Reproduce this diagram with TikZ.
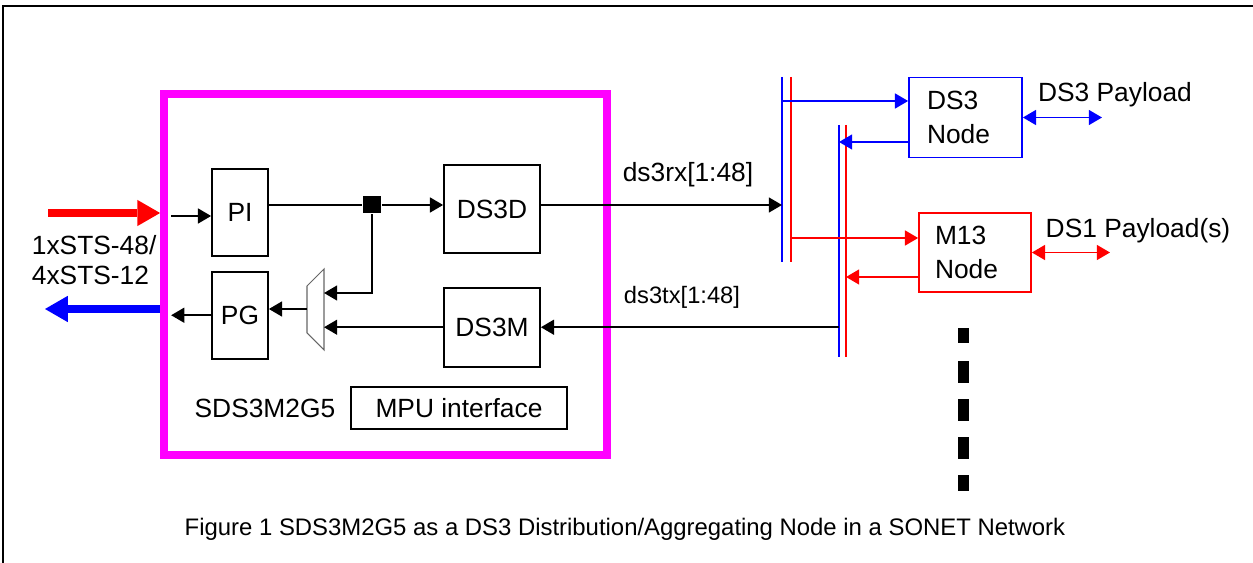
\documentclass[tikz,border=0pt]{standalone}
\usepackage{fontspec}
\setmainfont{Liberation Sans}
\usetikzlibrary{positioning, arrows.meta, calc}
\definecolor{netblue}{RGB}{0,0,255}
\definecolor{netred}{RGB}{255,0,0}
\definecolor{chipmag}{RGB}{255,0,255}

\begin{document}
\begin{tikzpicture}[x=0.02cm, y=-0.02cm, line width=1pt,
          >={Triangle[length=7.5pt, width=8.5pt]},
          font=\fontsize{15}{17.5}\selectfont,
          b/.style={draw, inner sep=0pt},
          nd/.style={draw=#1, align=left, inner ysep=0pt,
                     font=\fontsize{15}{19}\selectfont},
          sig/.style={->},
          fat/.style={line width=5pt, -{Triangle[length=13pt, width=15pt, line width=0pt]}},
          lbl/.style={inner sep=0pt}]
        \useasboundingbox (0,0) rectangle (1253,563);
        \draw[line width=1.5pt] (1253,6) -- (3,6) -- (3,563);

        % SDS3M2G5 device
        \node[draw=chipmag, line width=4.5pt, minimum width=8.86cm, minimum height=7.22cm] (chip) at (385.5,274.5) {};
        \node[b, minimum width=1.12cm, minimum height=1.74cm] (pi) at (240,212.5) {PI};
        \node[b, minimum width=1.12cm, minimum height=1.74cm, below=0.28cm of pi] (pg) {PG};
        \node[b, minimum width=1.92cm, minimum height=1.76cm] (ds3d) at (492,209) {DS3D};
        \node[b, minimum width=1.92cm, minimum height=1.58cm, below=0.66cm of ds3d] (ds3m) {DS3M};
        \node[b, minimum width=4.32cm, minimum height=0.84cm] (mpu) at (459,408) {MPU interface};
        \node[lbl, left=0.28cm of mpu] (sds) {SDS3M2G5};
        \node[fill, minimum width=0.36cm, minimum height=0.34cm, inner sep=0pt] (jn) at (372,205) {};

        % mux
        \draw[line width=0.6pt, black!60] (307,286) -- (324,269) -- (324,350) -- (307,333) -- cycle;
        \coordinate (mxa) at (324,293);
        \coordinate (mxo) at (307,309);

        \draw (pi.east |- jn) -- (jn);
        \draw[sig] (jn) -- (jn -| ds3d.west);
        \draw[sig] (jn) |- (mxa);
        \draw[sig] (ds3m.west) -- (ds3m.west -| mxa);
        \draw[sig] (mxo) -- (mxo -| pg.east);
        \draw[sig] ([xshift=-0.8cm, yshift=-0.07cm]pi.west) -- ([yshift=-0.07cm]pi.west);
        \draw[sig] (pg.west) -- ([xshift=-0.8cm]pg.west);

        % line side
        \coordinate (inp) at (48,213);
        \coordinate (outp) at (45,309);
        \draw[fat, netred] (inp) -- (inp -| chip.west);
        \draw[fat, netblue] (outp -| chip.west) -- (outp);
        \node[lbl, align=left, anchor=west] (sts) at (31,260) {1xSTS-48/\\4xSTS-12};

        % buses
        \coordinate (rxb) at (782,77);
        \coordinate (rxr) at (791,77);
        \coordinate (txb) at (839,125);
        \coordinate (txr) at (846,125);
        \draw[netblue] (rxb) -- ++(0,185);
        \draw[netred] (rxr) -- ++(0,185);
        \draw[netblue] (txb) -- ++(0,232);
        \draw[netred] (txr) -- ++(0,232);

        \draw[sig] (jn -| ds3d.east) -- (jn -| rxb);
        \draw[sig] (ds3m.east -| txb) -- (ds3m.east);
        \node[lbl] (rxl) at (688,175) {ds3rx[1:48]};
        \node[lbl, font=\fontsize{13.5}{16}\selectfont] (txl) at (682,297) {ds3tx[1:48]};

        % drop nodes
        \node[nd=netblue, text width=1.54cm, inner xsep=0.36cm, minimum height=1.6cm] (ds3n) at (965.5,117.5) {DS3\\Node};
        \node[nd=netred, text width=1.6cm, inner xsep=0.32cm, minimum height=1.58cm] (m13n) at (975,252.5) {M13\\Node};
        \coordinate (d3i) at ($(ds3n.west)+(0,-16.5)$);
        \coordinate (d3o) at ($(ds3n.west)+(0,24.5)$);
        \coordinate (m1i) at ($(m13n.west)+(0,-14.5)$);
        \coordinate (m1o) at ($(m13n.west)+(0,24.5)$);
        \draw[sig, netblue] (rxb |- d3i) -- (d3i);
        \draw[sig, netblue] (d3o) -- (d3o -| txb);
        \draw[sig, netred] (rxr |- m1i) -- (m1i);
        \draw[sig, netred] (m1o) -- (m1o -| txr);

        \coordinate (p3) at (1102,117.5);
        \coordinate (p1) at (1110,252.5);
        \draw[<->, netblue] (ds3n.east) -- (p3);
        \draw[<->, netred] (m13n.east) -- (p1);
        \node[lbl] (p3l) at (1115,95) {DS3 Payload};
        \node[lbl] (p1l) at (1138,231) {DS1 Payload(s)};

        \foreach \ya/\yb in {328/343, 361/383, 399/421, 437/459, 475/491}
          \fill (958,\ya) rectangle (969,\yb);

        \node[font=\fontsize{13.6}{16}\selectfont] (cap) at (625,529) {Figure 1 SDS3M2G5 as a DS3 Distribution/Aggregating Node in a SONET Network};
      \end{tikzpicture}
\end{document}
